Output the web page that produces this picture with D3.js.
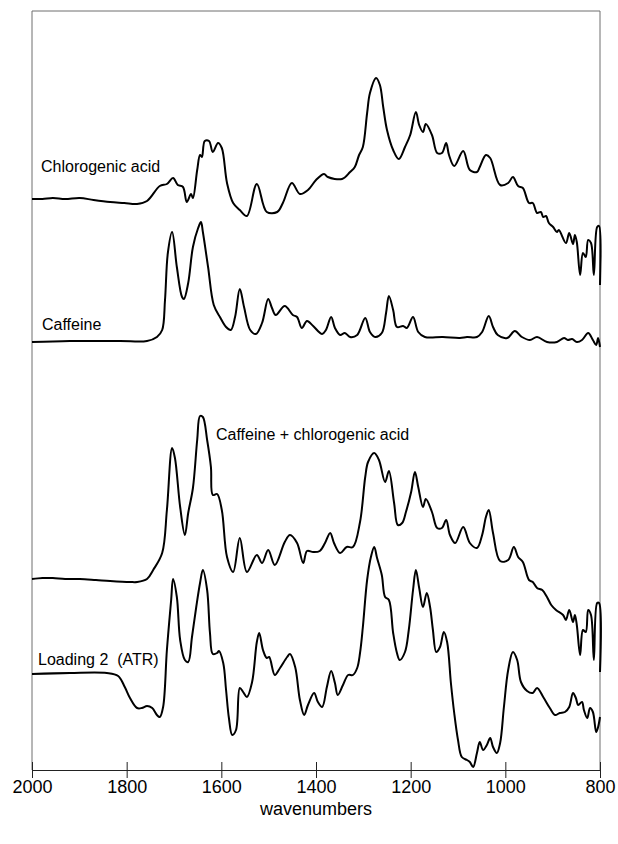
<!DOCTYPE html>
<html>
<head>
<meta charset="utf-8">
<script src="https://cdn.jsdelivr.net/npm/d3@7"></script>
<style>
  html, body { margin: 0; padding: 0; background: #fff; }
  svg { display: block; }
  text { font-family: "Liberation Sans", Arial, Helvetica, sans-serif; fill: #000; }
</style>
</head>
<body>
<svg id="chart" width="618" height="844"></svg>
<script>
// Infrared spectra, 2000–800 cm⁻¹, stacked with vertical offsets.
// Each point: [wavenumber, relative absorbance above the trace's own baseline]

const chlorogenicAcid = [
  [2000,0],[1978,0],[1956,1],[1930,0],[1899,1],[1870,-1],[1835,-3],[1805,-4],[1778,-5],[1757,-2],
  [1730,13],[1715,15],[1702,21],
  [1692,14],[1681,12],[1673,-3],[1664,5],[1660,1],[1651,29],[1645,44],[1641,42],[1635,58],
  [1626,58],[1618,47],[1607,56],[1599,51],[1588,16],[1575,-4],[1561,-11],[1546,-17],[1525,15],
  [1504,-13],[1482,-13],[1470,-4],[1451,16],[1434,5],[1417,9],[1400,19],[1383,25],[1375,22],
  [1345,20],[1328,27],[1318,32],[1309,44],[1301,52],[1292,86],[1286,106],[1273,121],[1265,114],
  [1258,92],[1250,69],[1237,49],[1225,40],[1212,52],[1201,64],[1189,87],[1182,74],[1174,67],
  [1168,75],[1155,64],[1144,46],[1134,46],[1125,56],[1119,44],[1108,33],[1089,48],[1075,29],
  [1060,27],[1054,32],[1041,44],[1032,41],[1011,14],[994,16],[984,22],[973,13],[963,11],
  [950,-4],[942,-4],[933,-14],[925,-13],[920,-18],[914,-17],[908,-24],[899,-28],[891,-33],
  [887,-31],[872,-44],[865,-34],[857,-45],[853,-36],[849,-43],[842,-76],[836,-54],[830,-58],
  [825,-41],[819,-44],[813,-76],[806,-28],[802,-27],[800,-86]
];

const caffeine = [
  [2000,0],[1920,1],[1814,1],[1757,1],[1736,5],[1725,12],[1719,42],[1713,89],[1704,110],
  [1694,75],[1683,45],[1679,43],[1670,59],[1660,95],[1649,114],[1643,120],[1639,110],[1628,75],
  [1616,37],[1603,25],[1590,15],[1580,12],[1571,25],[1561,53],[1552,35],[1539,12],[1527,8],
  [1514,19],[1501,43],[1493,34],[1485,27],[1466,36],[1449,27],[1440,25],[1430,14],[1419,21],
  [1406,16],[1387,8],[1379,12],[1368,25],[1360,14],[1349,7],[1339,9],[1328,5],[1313,7],
  [1296,24],[1286,10],[1275,5],[1261,9],[1252,29],[1246,46],[1237,32],[1229,15],[1216,16],
  [1208,14],[1195,25],[1184,10],[1170,5],[1132,5],[1096,4],[1081,5],[1060,5],[1049,10],
  [1035,26],[1026,15],[1016,7],[996,4],[980,11],[965,5],[948,2],[933,5],[912,0],[891,0],
  [876,4],[868,2],[859,3],[849,0],[838,2],[825,9],[815,2],[808,-3],[804,4],[800,-5]
];

const caffeinePlusChlorogenic = [
  [2000,0],[1978,1],[1956,1],[1930,0],[1899,0],[1865,-1],[1835,-2],[1793,-3],[1778,-3],[1757,0],
  [1744,9],[1725,26],
  [1715,69],[1704,131],[1698,121],[1687,72],[1677,44],[1670,66],[1660,91],[1651,139],[1645,163],
  [1639,162],[1630,139],[1622,112],[1618,84],[1609,85],[1599,69],[1588,22],[1575,7],[1561,41],
  [1546,7],[1525,24],[1514,16],[1501,29],[1487,14],[1466,37],[1455,44],[1440,36],[1427,16],
  [1419,28],[1406,27],[1392,28],[1381,36],[1370,46],[1362,36],[1349,26],[1335,32],[1322,32],
  [1307,57],[1296,102],[1290,117],[1277,126],[1267,119],[1254,97],[1246,108],[1235,76],[1227,54],
  [1218,56],[1210,67],[1199,87],[1191,107],[1184,92],[1174,72],[1168,80],[1155,67],[1144,51],
  [1134,51],[1125,59],[1117,44],[1106,36],[1089,52],[1075,36],[1060,31],[1049,44],[1041,62],
  [1035,69],[1026,46],[1011,18],[994,19],[982,32],[973,22],[963,17],[950,-1],[942,-3],
  [933,-9],[922,-11],[912,-18],[903,-26],[893,-31],[878,-36],[872,-41],[865,-31],[857,-43],
  [853,-36],[849,-46],[842,-76],[836,-51],[830,-53],[825,-31],[819,-36],[813,-81],[806,-24],
  [802,-24],[800,-93]
];

const loading2ATR = [
  [2000,0],[1920,1],[1842,1],[1818,-2],[1804,-13],[1793,-24],[1778,-34],[1768,-34],[1757,-32],
  [1746,-34],[1736,-41],[1730,-43],[1723,-33],[1715,24],[1706,74],[1702,95],[1694,77],[1687,34],
  [1677,14],[1670,12],[1662,37],[1653,67],[1645,91],[1639,104],[1630,84],[1624,41],[1618,20],
  [1609,21],[1605,23],[1596,11],[1590,-16],[1584,-44],[1577,-61],[1569,-56],[1561,-14],[1554,-18],
  [1546,-23],[1535,-8],[1525,32],[1520,41],[1512,24],[1504,16],[1499,17],[1487,-1],[1476,6],
  [1461,17],[1455,20],[1444,7],[1434,-26],[1425,-41],[1417,-31],[1404,-19],[1396,-28],[1387,-33],
  [1377,-13],[1368,3],[1360,-9],[1354,-21],[1343,-11],[1332,-1],[1322,-1],[1313,6],[1307,21],
  [1301,47],[1292,94],[1284,117],[1277,127],[1271,116],[1261,99],[1254,77],[1246,74],[1237,41],
  [1229,21],[1223,14],[1212,22],[1204,44],[1195,84],[1189,104],[1182,86],[1174,67],[1166,81],
  [1159,67],[1153,44],[1146,22],[1138,27],[1130,42],[1123,32],[1115,-9],[1108,-39],[1100,-66],
  [1092,-83],[1081,-86],[1075,-88],[1068,-93],[1060,-79],[1054,-68],[1047,-76],[1039,-71],
  [1032,-64],[1026,-73],[1018,-79],[1011,-69],[1003,-33],[994,4],[984,22],[975,14],[967,-8],
  [954,-17],[942,-19],[933,-14],[920,-23],[906,-34],[895,-41],[885,-39],[874,-38],[865,-33],
  [857,-19],[851,-24],[846,-31],[838,-28],[834,-36],[827,-44],[821,-34],[815,-38],[808,-58],
  [804,-53],[800,-43]
];

// Trace order, names and the vertical offset added to each trace
const traceNames   = ["Chlorogenic acid", "Caffeine", "Caffeine + chlorogenic acid", "Loading 2  (ATR)"];
const traceOffsets = [571, 428, 191, 96];
const traceData    = [chlorogenicAcid, caffeine, caffeinePlusChlorogenic, loading2ATR];

const xTicks  = [2000, 1800, 1600, 1400, 1200, 1000, 800];
const xTitle  = "wavenumbers";

// ---- layout ----
const svg = d3.select("#chart");
const plotLeft = 32, plotRight = 600, plotTop = 11, plotBottom = 770;

const x = d3.scaleLinear().domain([2000, 800]).range([plotLeft, plotRight]);
const y = d3.scaleLinear().domain([0, plotBottom - plotTop]).range([plotBottom, plotTop]);

// plot frame (top and sides)
svg.append("path")
  .attr("d", `M${plotLeft},${plotBottom}V${plotTop}H${plotRight}V${plotBottom}`)
  .attr("fill", "none")
  .attr("stroke", "#6e6e6e")
  .attr("stroke-width", 1);

// x axis with ticks crossing the axis line
const axis = svg.append("g")
  .attr("transform", `translate(0,${plotBottom})`)
  .call(d3.axisBottom(x).tickValues(xTicks).tickFormat(d3.format("d")).tickSize(8).tickPadding(0));

axis.select(".domain").attr("stroke", "#222").attr("stroke-width", 1);
axis.selectAll(".tick line").attr("y1", -8).attr("y2", 8).attr("stroke", "#222");
axis.selectAll(".tick text")
  .attr("y", 23)
  .attr("dy", 0)
  .style("font-size", "18px")
  .style("font-family", "'Liberation Sans', Arial, sans-serif")
  .attr("fill", "#000");

svg.append("text")
  .attr("x", (plotLeft + plotRight) / 2)
  .attr("y", 815)
  .attr("text-anchor", "middle")
  .style("font-size", "18px")
  .text(xTitle);

// spectra
const line = d3.line()
  .x(d => x(d[0]))
  .y(d => d.y)
  .curve(d3.curveCatmullRom.alpha(0.5));

traceData.forEach((series, i) => {
  const pts = series.map(d => Object.assign([d[0], d[1]], { y: y(d[1] + traceOffsets[i]) }));
  svg.append("path")
    .datum(pts)
    .attr("d", line)
    .attr("fill", "none")
    .attr("stroke", "#000")
    .attr("stroke-width", 2)
    .attr("stroke-linejoin", "round");
});

// trace names: [x in px, baseline y in px]
const labelPlacement = [[41, 172], [42, 330], [216, 440], [38, 665]];
traceNames.forEach((name, i) => {
  svg.append("text")
    .attr("x", labelPlacement[i][0])
    .attr("y", labelPlacement[i][1])
    .style("font-size", "16px")
    .style("white-space", "pre")
    .text(name);
});
</script>
</body>
</html>
